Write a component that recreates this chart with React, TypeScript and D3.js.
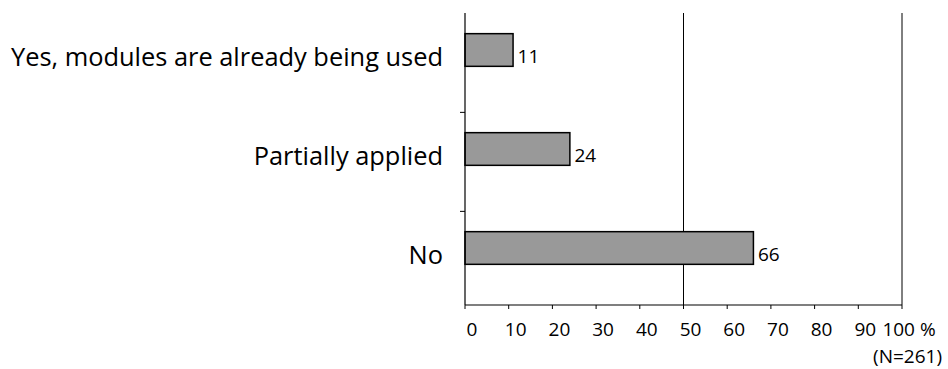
import React from "react";
import * as d3 from "d3";

// Survey answers and their shares (percent)
const categories: string[] = [
  "Yes, modules are already being used",
  "Partially applied",
  "No",
];
const values: number[] = [11, 24, 66];
const xTicks: number[] = [0, 10, 20, 30, 40, 50, 60, 70, 80, 90, 100];
const gridValues: number[] = [50, 100];
const unitSuffix = " %";
const sampleNote = "(N=261)";

const W = 948;
const H = 369;
const FONT = "'Open Sans', 'Noto Sans', sans-serif";

export default function App() {
  const plotLeft = 465;
  const plotRight = 902;
  const plotTop = 13;
  const plotBottom = 305;

  const x = d3.scaleLinear().domain([0, 100]).range([plotLeft, plotRight]);
  const y = d3
    .scaleBand<string>()
    .domain(categories)
    .range([0.5, 297.5])
    .paddingInner(0.67)
    .paddingOuter(0.335);

  const step = y.step();
  const bw = y.bandwidth();
  const mid = (c: string) => (y(c) as number) + bw / 2;
  // category separators sit just below each bar's lower edge
  const sepYs = categories.slice(0, -1).map((c) => mid(c) + step * 0.63);
  const lastTick = xTicks[xTicks.length - 1];

  return (
    <svg
      width={W}
      height={H}
      style={{ position: "absolute", left: 0, top: 0, background: "#fff" }}
      fontFamily={FONT}
    >
      {/* vertical reference lines */}
      {gridValues.map((v) => (
        <line
          key={"g" + v}
          x1={x(v)}
          x2={x(v)}
          y1={plotTop}
          y2={plotBottom}
          stroke="#000"
          strokeWidth={1}
        />
      ))}

      {/* bars */}
      {categories.map((c, i) => (
        <rect
          key={c}
          x={x(0)}
          y={y(c)}
          width={x(values[i]) - x(0)}
          height={bw}
          fill="#999999"
          stroke="#000"
          strokeWidth={1.5}
        />
      ))}

      {/* value labels */}
      {categories.map((c, i) => (
        <text key={"v" + c} x={x(values[i]) + 4.5} y={mid(c) + 12.5} fontSize={19} fill="#000">
          {values[i]}
        </text>
      ))}

      {/* category axis */}
      <line x1={x(0)} x2={x(0)} y1={plotTop} y2={plotBottom} stroke="#000" strokeWidth={1.2} />
      {sepYs.map((sy, i) => (
        <line key={"s" + i} x1={x(0) - 5} x2={x(0)} y1={sy} y2={sy} stroke="#000" strokeWidth={1} />
      ))}
      {categories.map((c) => (
        <text key={"c" + c} x={443} y={mid(c) + 16} fontSize={25.4} textAnchor="end" fill="#000">
          {c}
        </text>
      ))}

      {/* value axis */}
      <line x1={x(0)} x2={x(100)} y1={plotBottom} y2={plotBottom} stroke="#000" strokeWidth={1.2} />
      {xTicks.map((t) => (
        <g key={"t" + t}>
          <line x1={x(t)} x2={x(t)} y1={plotBottom} y2={plotBottom + 4} stroke="#000" strokeWidth={1} />
          <text x={x(t) + 7} y={336} fontSize={19} textAnchor="middle" fill="#000">
            {t === lastTick ? `${t}${unitSuffix}` : t}
          </text>
        </g>
      ))}
      <text x={942} y={363} fontSize={19} textAnchor="end" fill="#000">
        {sampleNote}
      </text>
    </svg>
  );
}
